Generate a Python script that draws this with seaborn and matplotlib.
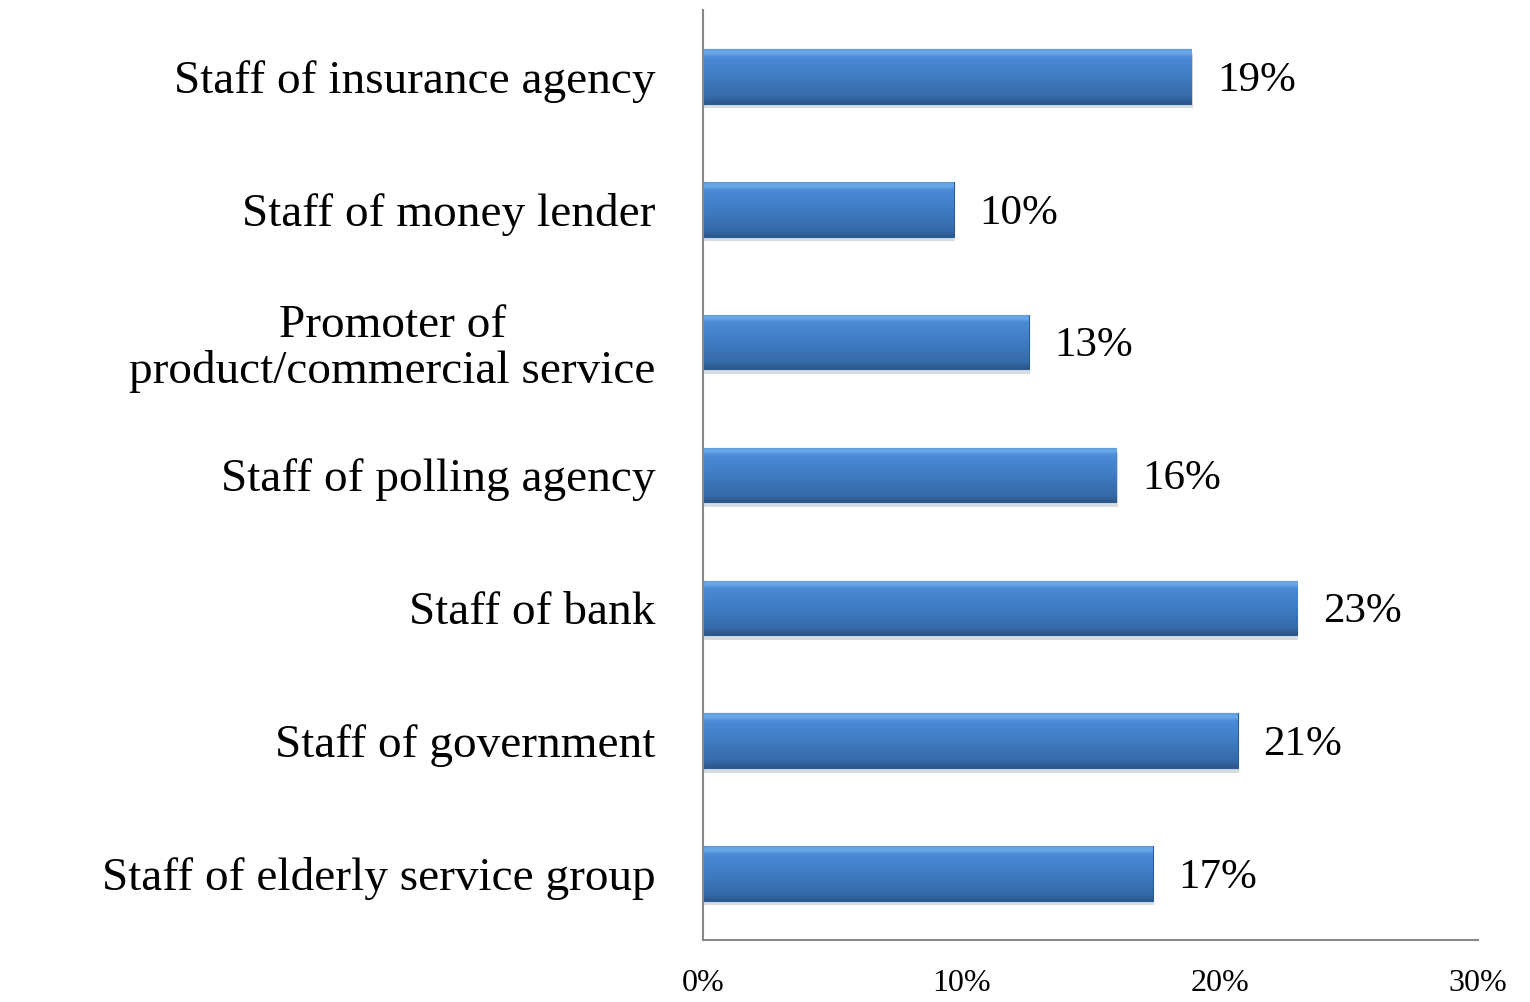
import numpy as np
import pandas as pd
import matplotlib
matplotlib.use("Agg")
import matplotlib.pyplot as plt
import seaborn as sns
from matplotlib.colors import LinearSegmentedColormap

categories = [
    "Staff of insurance agency",
    "Staff of money lender",
    "Promoter of\nproduct/commercial service",
    "Staff of polling agency",
    "Staff of bank",
    "Staff of government",
    "Staff of elderly service group",
]
values = [18.9, 9.7, 12.6, 16.0, 23.0, 20.7, 17.4]
xticks = [0, 10, 20, 30]
xtick_labels = ["0%", "10%", "20%", "30%"]

sns.set_theme(style="white")
plt.rcParams["font.family"] = ["Liberation Serif", "DejaVu Serif"]

df = pd.DataFrame({"category": categories, "value": values})

fig = plt.figure(figsize=(15.3, 10.02), dpi=100)
ax = fig.add_axes([0.4595, 0.0619, 0.966 - 0.4595, 0.990 - 0.0619])

sns.barplot(data=df, y="category", x="value", orient="h", color="#4080cc",
            width=0.41, ax=ax, saturation=1)

cmap = LinearSegmentedColormap.from_list(
    "bevel", [(0.0, "#2a5688"), (0.12, "#3669a8"), (0.5, "#3f7cc4"),
              (0.85, "#4a8bd6"), (0.93, "#6aaaea"), (1.0, "#5d9ddf")])
grad = np.linspace(0, 1, 256).reshape(-1, 1)
for p in ax.patches:
    x0, y0 = p.get_x(), p.get_y()
    w, h = p.get_width(), p.get_height()
    ax.add_patch(plt.Rectangle((x0 + 0.05, y0 + 0.035), w, h, color="#8f9bab",
                               alpha=0.35, zorder=1.5, lw=0))
    p.set_zorder(2)
    im = ax.imshow(grad, extent=(x0, x0 + w, y0 + h, y0), cmap=cmap,
                   aspect="auto", zorder=2.5, origin="lower")
    im.set_clip_path(p)
    p.set_edgecolor("#2b5a90")
    p.set_linewidth(0.8)

ax.set_xlim(0, 30)
ax.set_ylim(6.5, -0.5)
ax.set_xticks(xticks)
ax.set_xticklabels(xtick_labels, fontsize=23)
ax.set_xlabel("")
ax.set_ylabel("")
ax.tick_params(axis="x", length=0, pad=21, colors="black")
ax.tick_params(axis="y", length=0, pad=34, labelsize=34, colors="black")
for t in ax.get_yticklabels():
    t.set_multialignment("center")
    t.set_linespacing(1.1)

for s in ["top", "right"]:
    ax.spines[s].set_visible(False)
for s in ["left", "bottom"]:
    ax.spines[s].set_color("#888888")
    ax.spines[s].set_linewidth(1.5)

for i, v in enumerate(values):
    ax.text(v + 1.0, i + 0.03, f"{int(v + 0.5)}%", va="center", ha="left",
            fontsize=31, color="black")

fig.savefig("out.png", dpi=100)
